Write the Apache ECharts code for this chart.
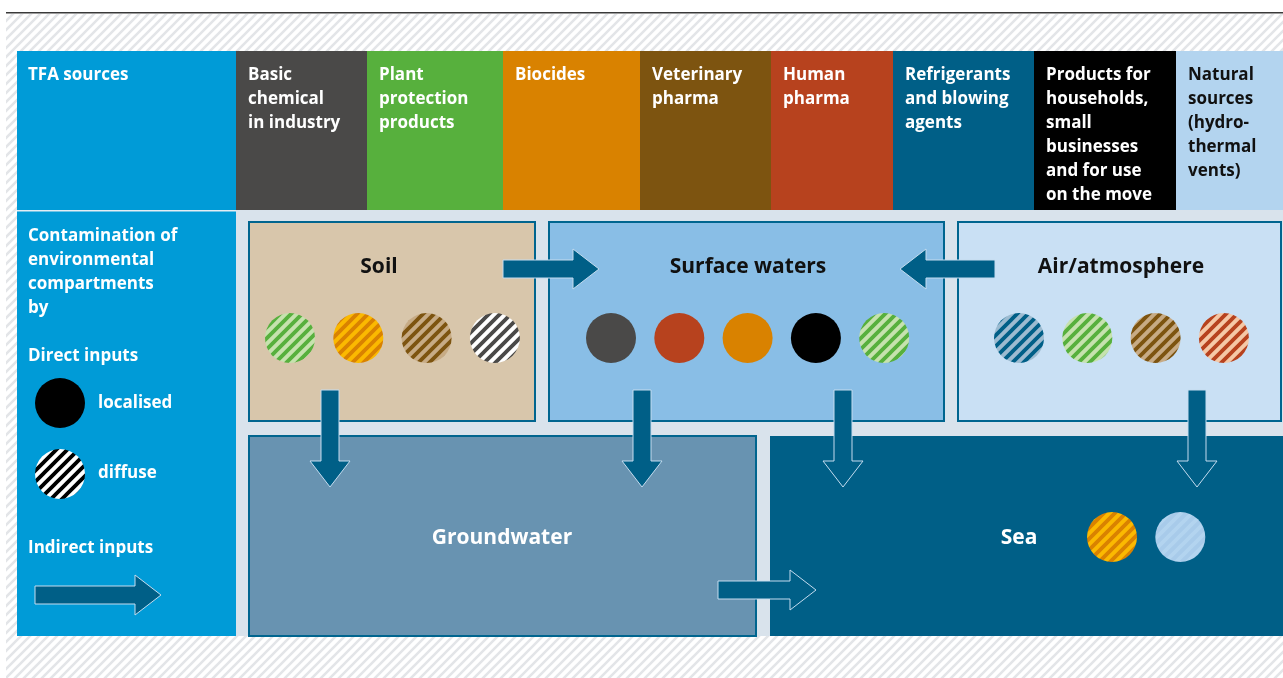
<!DOCTYPE html>
<html><head><meta charset="utf-8">
<script src="https://cdn.jsdelivr.net/npm/echarts@6/dist/echarts.min.js"></script>
<style>html,body{margin:0;padding:0;background:#fff}#c{width:1283px;height:678px}</style>
</head><body><div id="c"></div><script>
// ---------------- data ----------------
const sourceHeader = ['TFA sources'];
const sourceKeys = ['industry','plant','biocides','vet','human','refrig','products','natural'];
const sourceLabels = [
  ['Basic','chemical','in industry'],
  ['Plant','protection','products'],
  ['Biocides'],
  ['Veterinary','pharma'],
  ['Human','pharma'],
  ['Refrigerants','and blowing','agents'],
  ['Products for','households,','small','businesses','and for use','on the move'],
  ['Natural','sources','(hydro-','thermal','vents)']
];
const sourceColors = ['#4a4948','#57b03d','#d98200','#7d5410','#b7421e','#005f87','#000000','#b3d4ef'];
const sourceTints  = ['#ffffff','#c6e2ae','#fbb900','#c7ab85','#f5c8a6','#9cbbd0','#ffffff','#a8cbea'];
const compartmentNames = ['Soil','Surface waters','Air/atmosphere','Groundwater','Sea'];
const soilInputs = [['plant','diffuse'],['biocides','diffuse'],['vet','diffuse'],['industry','diffuse']];
const surfaceInputs = [['industry','localised'],['human','localised'],['biocides','localised'],['products','localised'],['plant','diffuse']];
const airInputs = [['refrig','diffuse'],['plant','diffuse'],['vet','diffuse'],['human','diffuse']];
const groundwaterInputs = [];
const seaInputs = [['biocides','diffuse'],['natural','diffuse']];
const indirectFlows = [
  ['Soil','Surface waters'],['Air/atmosphere','Surface waters'],
  ['Soil','Groundwater'],['Surface waters','Groundwater'],
  ['Surface waters','Sea'],['Air/atmosphere','Sea'],['Groundwater','Sea']
];
const legendTitle = ['Contamination of','environmental','compartments','by'];
const legendDirect = 'Direct inputs';
const legendLocalised = 'localised';
const legendDiffuse = 'diffuse';
const legendIndirect = 'Indirect inputs';

// ---------------- layout (pixel units of the hidden axes) ----------------
const W = 1283, H = 678;
const colEdges = [236,367,503,640,771,893,1034,1176,1283];
const headerTop = 51, headerBottom = 210, panelBottom = 636, leftX0 = 17, leftX1 = 236;
const boxes = {
  'Soil':[249,222,535,421], 'Surface waters':[549,222,944,421], 'Air/atmosphere':[958,222,1281,421],
  'Groundwater':[249,436,756,636], 'Sea':[770,436,1283,636]
};
const boxFill = {'Soil':'#d8c6ab','Surface waters':'#89bee6','Air/atmosphere':'#c9e0f4','Groundwater':'#6893b1','Sea':'#005f87'};
const boxStroke = {'Soil':true,'Surface waters':true,'Air/atmosphere':true,'Groundwater':true,'Sea':false};
const titlePos = {'Soil':[379,267],'Surface waters':[748,267],'Air/atmosphere':[1121,267],'Groundwater':[502,538],'Sea':[1019,538]};
const titleColor = {'Soil':'#111','Surface waters':'#111','Air/atmosphere':'#111','Groundwater':'#fff','Sea':'#fff'};
const circleRow = {'Soil':[290,338],'Surface waters':[611,338],'Air/atmosphere':[1019,338],'Groundwater':[0,0],'Sea':[1112,537]};
const circleStep = 68.3, circleR = 25;
const flowGeom = [
  {dir:'right', a:503, b:599, c:269},
  {dir:'left',  a:995, b:900, c:269},
  {dir:'down',  a:390, b:487, c:330},
  {dir:'down',  a:390, b:487, c:642},
  {dir:'down',  a:390, b:487, c:843},
  {dir:'down',  a:390, b:487, c:1197},
  {dir:'right', a:718, b:816, c:590}
];
const shaftHalf = 9, headHalf = 20, headLen = 26;
const FONT = '"Open Sans", "Noto Sans", sans-serif';
const FS = 17;

function stripes(bg, fg, size, lw){
  const c = document.createElement('canvas'); c.width = c.height = size;
  const g = c.getContext('2d'); g.fillStyle = bg; g.fillRect(0,0,size,size);
  g.strokeStyle = fg; g.lineWidth = lw; g.beginPath();
  for (let k=-2;k<=2;k++){ g.moveTo(k*size - size, 2*size); g.lineTo(k*size + 2*size, -size); }
  g.stroke();
  return {image:c, repeat:'repeat'};
}
function inputFill(key, kind){
  const i = sourceKeys.indexOf(key);
  if (kind === 'localised') return sourceColors[i];
  return stripes(sourceTints[i], sourceColors[i], 11, 3.8);
}

// ---------------- build marks ----------------
const marks = [];
const add = m => marks.push(m);
add({k:'rect', x0:6, y0:14, x1:W, y1:H, fill:stripes('#ffffff','#e3e5e8',9,2.6)});
add({k:'rect', x0:6, y0:12, x1:W, y1:13.6, fill:'#3a3a3a'});
add({k:'rect', x0:leftX0, y0:headerTop, x1:leftX1, y1:panelBottom, fill:'#009bd7'});
add({k:'rect', x0:leftX0, y0:headerBottom, x1:leftX1, y1:headerBottom+1.6, fill:'#e4edf4'});
add({k:'rect', x0:leftX1, y0:headerBottom, x1:W, y1:panelBottom, fill:'#d9e3ec'});
add({k:'text', x:leftX0+11, y:75.5, text:sourceHeader[0], fill:'#fff', size:FS});
sourceKeys.forEach((key,i)=>{
  add({k:'rect', x0:colEdges[i], y0:headerTop, x1:colEdges[i+1], y1:headerBottom, fill:sourceColors[i]});
  sourceLabels[i].forEach((t,j)=>add({k:'text', x:colEdges[i]+12, y:75.5+24*j, text:t, fill:key==='natural'?'#111':'#fff', size:FS}));
});
// legend column
legendTitle.forEach((t,j)=>add({k:'text', x:leftX0+11, y:236+24*j, text:t, fill:'#fff', size:FS}));
add({k:'text', x:leftX0+11, y:356, text:legendDirect, fill:'#fff', size:FS});
add({k:'circle', cx:60, cy:403, r:circleR, fill:'#000'});
add({k:'text', x:98, y:403, text:legendLocalised, fill:'#fff', size:FS});
add({k:'circle', cx:60, cy:474, r:circleR, fill:stripes('#ffffff','#000000',11,3.8)});
add({k:'text', x:98, y:473, text:legendDiffuse, fill:'#fff', size:FS});
add({k:'text', x:leftX0+11, y:548.5, text:legendIndirect, fill:'#fff', size:FS});
add({k:'arrow', dir:'right', a:35, b:161, c:595});
// compartments
const inputsBy = {'Soil':soilInputs,'Surface waters':surfaceInputs,'Air/atmosphere':airInputs,'Groundwater':groundwaterInputs,'Sea':seaInputs};
compartmentNames.forEach(name=>{
  const b = boxes[name];
  add({k:'rect', x0:b[0], y0:b[1], x1:b[2], y1:b[3], fill:boxFill[name], stroke:boxStroke[name]?'#00658f':null, lw:boxStroke[name]?2:0});
});
compartmentNames.forEach(name=>{
  add({k:'text', x:titlePos[name][0], y:titlePos[name][1], text:name, fill:titleColor[name], size:21, align:'center'});
  inputsBy[name].forEach((inp,i)=>add({k:'circle', cx:circleRow[name][0]+circleStep*i, cy:circleRow[name][1], r:circleR, fill:inputFill(inp[0],inp[1])}));
});
indirectFlows.forEach((f,i)=>add(Object.assign({k:'arrow'}, flowGeom[i])));

function arrowPts(m){
  const a=m.a,b=m.b,c=m.c,s=shaftHalf,h=headHalf;
  if (m.dir==='right'){ const hb=b-headLen; return [[a,c-s],[hb,c-s],[hb,c-h],[b,c],[hb,c+h],[hb,c+s],[a,c+s]]; }
  if (m.dir==='left'){ const hb=b+headLen; return [[a,c-s],[hb,c-s],[hb,c-h],[b,c],[hb,c+h],[hb,c+s],[a,c+s]]; }
  const hb=b-headLen; return [[c-s,a],[c-s,hb],[c-h,hb],[c,b],[c+h,hb],[c+s,hb],[c+s,a]];
}

function renderItem(params, api){
  const m = marks[params.dataIndex];
  const P = (x,y)=>api.coord([x,y]);
  const z2 = params.dataIndex;
  if (m.k==='rect'){
    const p=P(m.x0,m.y0), q=P(m.x1,m.y1);
    return {type:'rect', z2, shape:{x:p[0],y:p[1],width:q[0]-p[0],height:q[1]-p[1]},
      style:{fill:m.fill, stroke:m.stroke||null, lineWidth:m.lw||0}};
  }
  if (m.k==='circle'){
    const p=P(m.cx,m.cy), r=P(m.cx+m.r,m.cy)[0]-p[0];
    return {type:'circle', z2, shape:{cx:p[0],cy:p[1],r}, style:{fill:m.fill}};
  }
  if (m.k==='arrow'){
    return {type:'polygon', z2, shape:{points:arrowPts(m).map(pt=>P(pt[0],pt[1]))},
      style:{fill:'#005f87', stroke:'#c4dcef', lineWidth:1}};
  }
  const p=P(m.x,m.y);
  const al=m.align||'left';
  return {type:'text', z2, x:p[0], y:p[1], style:{text:m.text, fill:m.fill,
    font:'bold '+m.size+'px '+FONT, textAlign:al, align:al, textVerticalAlign:'middle', verticalAlign:'middle'}};
}

const chart = echarts.init(document.getElementById('c'), null, {renderer:'canvas', width:W, height:H});
chart.setOption({
  animation:false,
  grid:{left:0,right:0,top:0,bottom:0},
  xAxis:{type:'value', min:0, max:W, show:false},
  yAxis:{type:'value', min:0, max:H, inverse:true, show:false},
  series:[{type:'custom', coordinateSystem:'cartesian2d', clip:false, silent:true,
    renderItem, data:marks.map((m,i)=>[i,0])}]
});
</script></body></html>
